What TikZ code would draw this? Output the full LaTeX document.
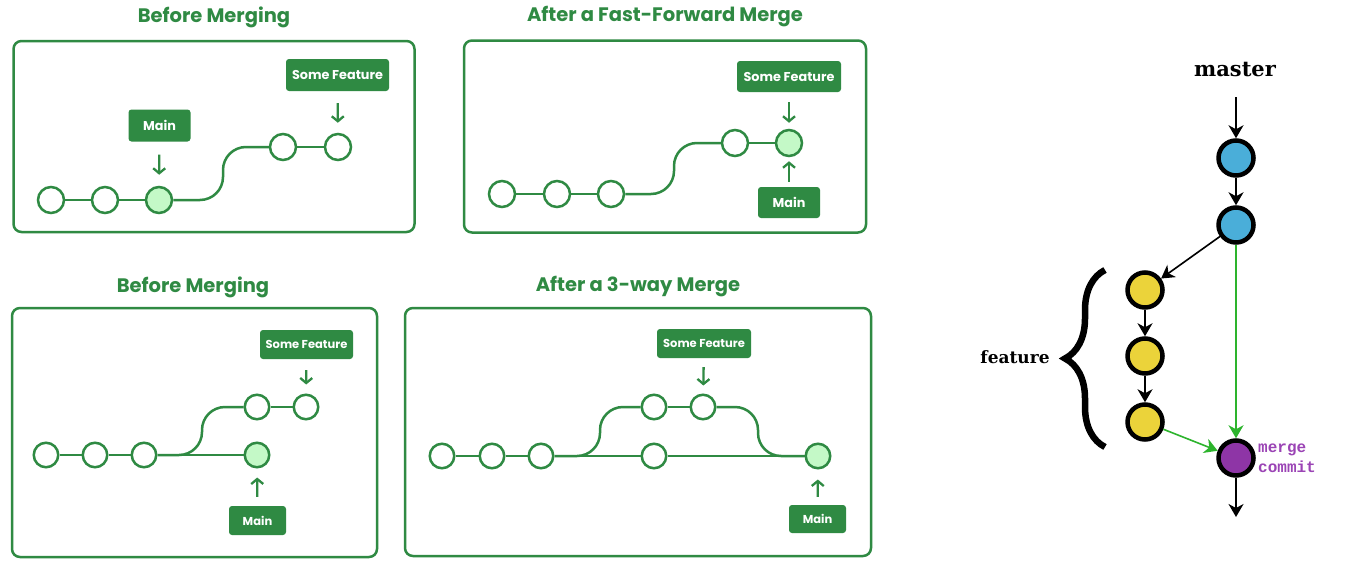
\documentclass[tikz,border=0pt]{standalone}
\usepackage{fontspec}
\newfontfamily\pop{Poppins}
\newfontfamily\slab{DejaVu Serif}
\newfontfamily\cour{Liberation Mono}
\usetikzlibrary{arrows.meta,decorations.pathreplacing}
\definecolor{gg}{HTML}{2F8A43}
\definecolor{lightg}{HTML}{C4F9C7}
\definecolor{cblue}{HTML}{4AAED9}
\definecolor{cyel}{HTML}{EBD33A}
\definecolor{cpur}{HTML}{8E35A6}
\definecolor{mtext}{HTML}{9B44B5}
\definecolor{garr}{HTML}{2DB42D}
\tikzset{
  panelbox/.style={draw=gg, line width=2.5pt, rounded corners=8pt},
  ptitle/.style={text=gg, font=\pop\bfseries\fontsize{19.5}{22}\selectfont},
  commit/.style={circle, draw=gg, line width=2.5pt, fill=white, minimum size=26pt, inner sep=0pt},
  head/.style={commit, fill=lightg},
  scommit/.style={commit, minimum size=24.5pt},
  shead/.style={scommit, fill=lightg},
  lab/.style={fill=gg, rounded corners=3pt, text=white, inner sep=0pt, font=\pop\bfseries\fontsize{12.8}{14}\selectfont},
  slab/.style={lab, font=\pop\bfseries\fontsize{11.5}{13}\selectfont},
  gline/.style={draw=gg, line width=2.5pt, rounded corners=23pt},
  garrow/.style={draw=gg, line width=2.3pt, -{Straight Barb[length=5pt,width=12pt]}},
  gc/.style={circle, draw=black, line width=4.5pt, minimum size=35pt, inner sep=0pt},
  barr/.style={draw=black, line width=1.6pt, -{Stealth[length=13pt,width=15pt,inset=4pt]}},
  garr2/.style={draw=garr, line width=1.6pt, -{Stealth[length=13pt,width=15pt,inset=4pt]}},
}
\begin{document}
\begin{tikzpicture}[x=1pt,y=-1pt]
\useasboundingbox[fill=white] (0,0) rectangle (1348,570);

% ---------- Panel 1 ----------
\node[ptitle] (t1) at (214,17) {Before Merging};
\node[panelbox, minimum width=401pt, minimum height=191pt] (box1) at (214,136.5) {};
\node[commit] (a1) at (51,200) {};
\node[commit] (a2) at (105,200) {};
\node[head]   (a3) at (159,200) {};
\node[commit] (a4) at (283,147) {};
\node[commit] (a5) at (338,147) {};
\coordinate (ka) at (223,0);
\draw[gline] (a1) -- (a2);
\draw[gline] (a2) -- (a3);
\draw[gline] (a3) -- (a3 -| ka) -- (a4 -| ka) -- (a4);
\draw[gline] (a4) -- (a5);
\node[lab, minimum width=62pt, minimum height=32pt] (la) at (159.5,125.5) {Main};
\node[lab, minimum width=103pt, minimum height=32pt] (lb) at (337.5,75) {Some Feature};
\draw[garrow, shorten <=13pt, shorten >=11pt] (la) -- (a3);
\draw[garrow, shorten <=12pt, shorten >=10pt] (lb) -- (a5);

% ---------- Panel 2 ----------
\node[ptitle] (t2) at (665,17) {After a Fast-Forward Merge};
\node[panelbox, minimum width=402pt, minimum height=192pt] (box2) at (665,136.5) {};
\node[commit] (b1) at (502,194) {};
\node[commit] (b2) at (557,194) {};
\node[commit] (b3) at (611,194) {};
\node[commit] (b4) at (735,143) {};
\node[head]   (b5) at (789,143) {};
\coordinate (kb) at (674,0);
\draw[gline] (b1) -- (b2);
\draw[gline] (b2) -- (b3);
\draw[gline] (b3) -- (b3 -| kb) -- (b4 -| kb) -- (b4);
\draw[gline] (b4) -- (b5);
\node[lab, minimum width=104pt, minimum height=31pt] (lc) at (789,76.5) {Some Feature};
\node[lab, minimum width=62pt, minimum height=31pt] (ld) at (789,202.5) {Main};
\draw[garrow, shorten <=10pt, shorten >=6pt] (lc) -- (b5);
\draw[garrow, shorten <=5pt, shorten >=4pt] (ld) -- (b5);

% ---------- Panel 3 ----------
\node[ptitle] (t3) at (193,287) {Before Merging};
\node[panelbox, minimum width=365pt, minimum height=249pt] (box3) at (194.5,432.5) {};
\node[scommit] (c1) at (46,455) {};
\node[scommit] (c2) at (95,455) {};
\node[scommit] (c3) at (144,455) {};
\node[shead]   (c4) at (257,455) {};
\node[scommit] (c5) at (257,407) {};
\node[scommit] (c6) at (306,407) {};
\coordinate (kc) at (202,0);
\draw[gline] (c1) -- (c2);
\draw[gline] (c2) -- (c3);
\draw[gline] (c3) -- (c4);
\draw[gline] (c3) -- (c3 -| kc) -- (c5 -| kc) -- (c5);
\draw[gline] (c5) -- (c6);
\node[slab, minimum width=93pt, minimum height=29pt] (le) at (306.5,344.5) {Some Feature};
\node[slab, minimum width=57pt, minimum height=29pt] (lf) at (257.5,520.5) {Main};
\draw[garrow, shorten <=11pt, shorten >=9pt] (le) -- (c6);
\draw[garrow, shorten <=9pt, shorten >=9pt] (lf) -- (c4);

% ---------- Panel 4 ----------
\node[ptitle] (t4) at (638,287) {After a 3-way Merge};
\node[panelbox, minimum width=466pt, minimum height=248pt] (box4) at (638,432) {};
\node[scommit] (d1) at (442,456) {};
\node[scommit] (d2) at (492,456) {};
\node[scommit] (d3) at (541,456) {};
\node[scommit] (d4) at (654,456) {};
\node[shead]   (d5) at (818,456) {};
\node[scommit] (d6) at (654,407) {};
\node[scommit] (d7) at (703,407) {};
\coordinate (kd1) at (600,0);
\coordinate (kd2) at (758,0);
\draw[gline] (d1) -- (d2);
\draw[gline] (d2) -- (d3);
\draw[gline] (d3) -- (d4);
\draw[gline] (d4) -- (d5);
\draw[gline] (d3) -- (d3 -| kd1) -- (d6 -| kd1) -- (d6);
\draw[gline] (d6) -- (d7);
\draw[gline] (d7) -- (d7 -| kd2) -- (d5 -| kd2) -- (d5);
\node[slab, minimum width=94pt, minimum height=29pt] (lg) at (704,343.5) {Some Feature};
\node[slab, minimum width=57pt, minimum height=28pt] (lh) at (817.5,519) {Main};
\draw[garrow, shorten <=9pt, shorten >=8pt] (lg) -- (d7);
\draw[garrow, shorten <=8pt, shorten >=10pt] (lh) -- (d5);

% ---------- Right diagram ----------
\node[font=\slab\bfseries\fontsize{21}{23}\selectfont] (master) at (1235,70) {master};
\coordinate (ms) at (1236,97);
\node[gc, fill=cblue] (m1) at (1236,158) {};
\node[gc, fill=cblue] (m2) at (1236,225) {};
\node[gc, fill=cyel] (f1) at (1145,290) {};
\node[gc, fill=cyel] (f2) at (1145,356) {};
\node[gc, fill=cyel] (f3) at (1145,422) {};
\node[gc, fill=cpur] (mc) at (1236,458) {};
\coordinate (me) at (1236,517);
\draw[barr] (ms) -- (m1);
\draw[barr] (m1) -- (m2);
\draw[barr] (m2) -- (f1);
\draw[barr] (f1) -- (f2);
\draw[barr] (f2) -- (f3);
\draw[garr2] (m2) -- (mc);
\draw[garr2] (f3) -- (mc);
\draw[barr] (mc) -- (me);
\node[font=\slab\bfseries\fontsize{17}{19}\selectfont] (feat) at (1015,357) {feature};
\coordinate (br1) at (1105,447);
\coordinate (br2) at (1105,270);
\draw[line width=6.5pt, decorate, decoration={brace, amplitude=40pt, aspect=0.5}] (br1) -- (br2);
\node[anchor=west, text=mtext, font=\cour\bfseries\fontsize{16}{20}\selectfont, align=left, inner sep=0pt] (mct) at (1258,458) {merge\\commit};
\end{tikzpicture}
\end{document}
